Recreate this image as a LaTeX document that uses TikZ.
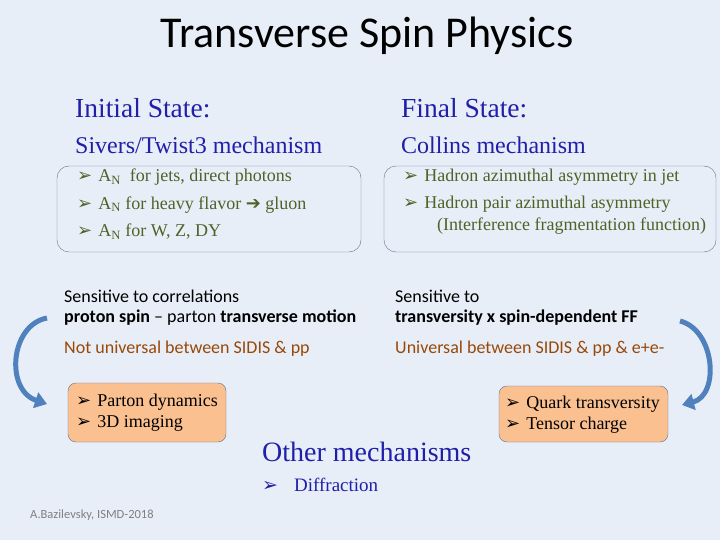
\documentclass[tikz,border=0pt]{standalone}
\usepackage{fontspec}
\setmainfont{Liberation Serif}
\newfontfamily\carlfont{Carlito}
\newfontfamily\djfont{DejaVu Sans}
\usetikzlibrary{arrows.meta}
\definecolor{bg}{HTML}{E8EEF8}
\definecolor{hblue}{HTML}{1F1FA8}
\definecolor{grn}{HTML}{4F6228}
\definecolor{brn}{HTML}{984807}
\definecolor{org}{HTML}{FAC090}
\definecolor{arr}{HTML}{4F81BD}
\definecolor{bord}{HTML}{5A7394}
\newcommand{\bul}{{\djfont\char"27A2}}
\begin{document}
\begin{tikzpicture}[x=1pt,y=-1pt,
  every node/.style={inner sep=0pt,anchor=west},
  head/.style={font=\fontsize{27.5}{30}\selectfont,text=hblue},
  sub/.style={font=\fontsize{24}{28}\selectfont,text=hblue},
  gb/.style={font=\fontsize{18}{21}\selectfont,text=grn},
  sf/.style={font=\carlfont\fontsize{18}{21}\selectfont},
  obox/.style={draw=bord,fill=org,rounded corners=8pt},
  bbox/.style={draw=bord,rounded corners=12pt},
  bk/.style={font=\fontsize{18}{21}\selectfont,text=black},
  curv/.style={draw=arr,line width=5pt,-{Triangle[length=12pt,width=16pt]}}]
\fill[bg] (0,0) rectangle (720,540);
\useasboundingbox (0,0) rectangle (720,540);
\node[anchor=center,font=\carlfont\fontsize{44}{50}\selectfont] (title) at (367,36) {Transverse Spin Physics};
\node[head] (is) at (75,108) {Initial State:};
\node[head] (fs) at (401,108) {Final State:};
\node[sub] (siv) at (75,145) {Sivers/Twist3 mechanism};
\node[sub] (col) at (401,145) {Collins mechanism};
\draw[bbox] (57,166) rectangle (361,252);
\draw[bbox] (384,166) rectangle (716,252);
\node[gb] (l1) at (77,177) {\bul\hspace{6pt}A\textsubscript{N}\ \ for jets, direct photons};
\node[gb] (l2) at (77,205) {\bul\hspace{6pt}A\textsubscript{N} for heavy flavor {\djfont\char"2794} gluon};
\node[gb] (l3) at (77,232) {\bul\hspace{6pt}A\textsubscript{N} for W, Z, DY};
\node[gb] (r1) at (403,177) {\bul\hspace{6pt}Hadron azimuthal asymmetry in jet};
\node[gb] (r2) at (403,204) {\bul\hspace{6pt}Hadron pair azimuthal asymmetry};
\node[gb] (r3) at (437,226) {(Interference fragmentation function)};
\node[sf] (s1) at (64,296) {Sensitive to correlations};
\node[sf] (s2) at (64,318) {\textbf{proton spin} – parton \textbf{transverse motion}};
\node[sf,text=brn] (s3) at (64,349) {Not universal between SIDIS \& pp};
\node[sf] (t1) at (395,296) {Sensitive to};
\node[sf] (t2) at (395,318) {\textbf{transversity x spin-dependent FF}};
\node[sf,text=brn] (t3) at (395,349) {Universal between SIDIS \& pp \& e+e-};
\draw[obox] (68,383) rectangle (226,442);
\node[bk] (p1) at (76,402) {\bul\hspace{6pt}Parton dynamics};
\node[bk] (p2) at (76,423) {\bul\hspace{6pt}3D imaging};
\draw[obox] (499,386) rectangle (668,442);
\node[bk] (q1) at (505,404) {\bul\hspace{6pt}Quark transversity};
\node[bk] (q2) at (505,425) {\bul\hspace{6pt}Tensor charge};
\node[font=\fontsize{28}{32}\selectfont,text=hblue] (om) at (262,452) {Other mechanisms};
\node[font=\fontsize{19}{22}\selectfont,text=hblue] (df) at (262,485) {\bul\hspace{16pt}Diffraction};
\node[font=\carlfont\fontsize{12.5}{14}\selectfont,text=gray] (ft) at (30,515) {A.Bazilevsky, ISMD-2018};
\coordinate (la) at (47,318);
\coordinate (lb) at (47,404);
\coordinate (ra) at (680,321);
\coordinate (rb) at (682,405);
\draw[curv] (la) .. controls (10,325) and (5,390) .. (lb);
\draw[curv] (ra) .. controls (715,330) and (720,395) .. (rb);
\end{tikzpicture}
\end{document}
